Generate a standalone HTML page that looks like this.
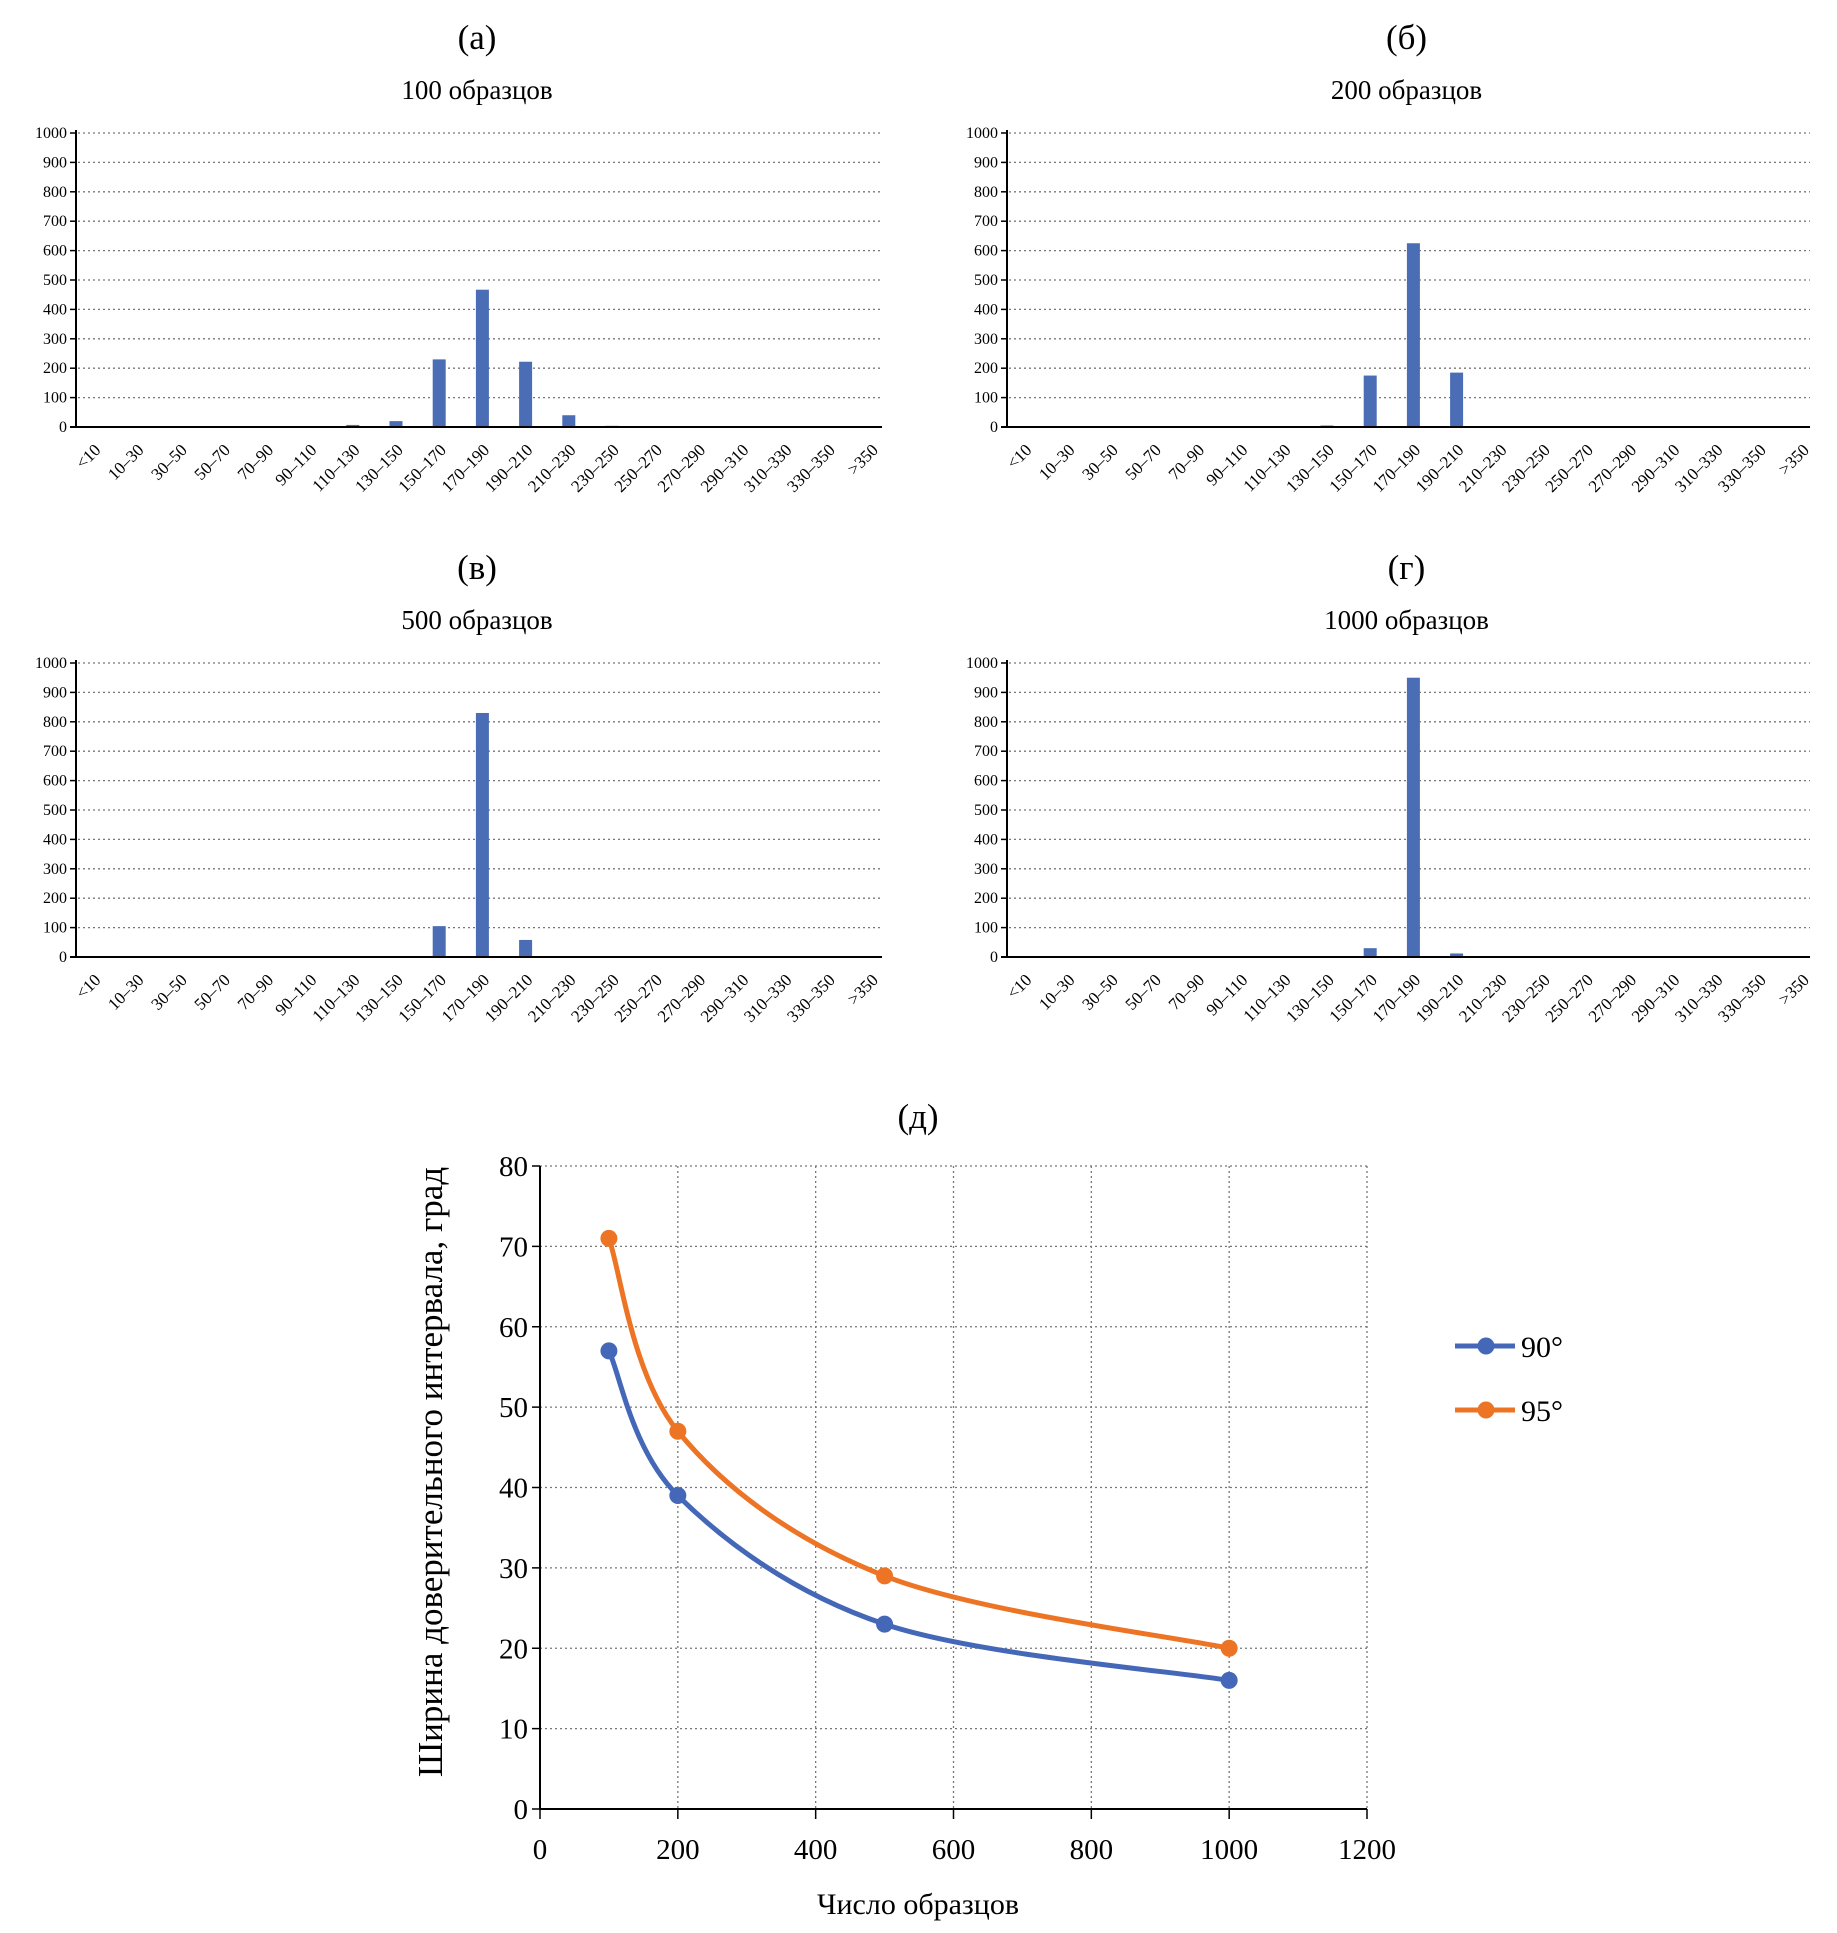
<!DOCTYPE html>
<html><head><meta charset="utf-8">
<style>
body{margin:0;background:#fff;}
svg{display:block;font-family:"Liberation Serif","DejaVu Serif",serif;}
</style></head>
<body>
<svg id="root" width="1837" height="1933" viewBox="0 0 1837 1933"></svg>
<script>
const categories=["<10","10–30","30–50","50–70","70–90","90–110","110–130","130–150","150–170","170–190","190–210","210–230","230–250","250–270","270–290","290–310","310–330","330–350",">350"];
const valuesA=[0,0,0,0,0,3,7,20,230,467,222,40,4,2,0,0,0,0,0];
const valuesB=[0,0,0,0,0,0,0,5,175,625,185,2,0,0,0,0,0,0,0];
const valuesC=[0,0,0,0,0,0,0,0,105,830,58,0,0,0,0,0,0,0,0];
const valuesD=[0,0,0,0,0,0,0,0,30,950,12,0,0,0,0,0,0,0,0];
const histTicks=[0,100,200,300,400,500,600,700,800,900,1000];
const lineX=[100,200,500,1000];
const series90=[57,39,23,16];
const series95=[71,47,29,20];
const lineXTicks=[0,200,400,600,800,1000,1200];
const lineYTicks=[0,10,20,30,40,50,60,70,80];

const NS="http://www.w3.org/2000/svg";
const root=document.getElementById('root');
function mk(tag,attrs,parent,text){const e=document.createElementNS(NS,tag);for(const k in attrs)e.setAttribute(k,attrs[k]);if(text!==undefined)e.textContent=text;(parent||root).appendChild(e);return e;}

function hist(id,letter,sub,vals,x0,x1,yTop,yBot){
  const g=mk('g',{});
  
  
  const cx=(x0+x1)/2+(-2);
  const t1=mk('text',{x:cx,y:yTop-84,'text-anchor':'middle','font-size':35},g,letter);
  
  
  const t2=mk('text',{x:cx,y:yTop-34,'text-anchor':'middle','font-size':27},g,sub);
  
  
  const ys=v=>yBot-(v/1000)*(yBot-yTop);
  histTicks.forEach(t=>{
    const y=ys(t);
    if(t>0){const gl=mk('line',{x1:x0+2,x2:x1,y1:y,y2:y,stroke:'#777','stroke-width':1.3,'stroke-dasharray':'2,3'},g);
      
      }
    mk('line',{x1:x0-6,x2:x0,y1:y,y2:y,stroke:'#000','stroke-width':1.5},g);
    const tl=mk('text',{x:x0-9,y:y+5,'text-anchor':'end','font-size':16},g,String(t));
    
    
  });
  const band=43.2;
  vals.forEach((v,i)=>{
    const c=x0+band*(i+0.5)-4;
    if(v>0){const b=mk('rect',{x:c-6.5,y:ys(v),width:13,height:yBot-ys(v),fill:'#4a6db5'},g);
      
      }
    const lt=mk('text',{x:c+8,y:yBot+24,'text-anchor':'end','font-size':17,transform:`rotate(-45 ${c+8} ${yBot+24})`},g,categories[i]);
    
    
  });
  const ax=mk('line',{x1:x0,x2:x0,y1:yTop-3,y2:yBot,stroke:'#000','stroke-width':2},g);
  
  
  const bx=mk('line',{x1:x0-6,x2:x1,y1:yBot,y2:yBot,stroke:'#000','stroke-width':2},g);
  
  
}
hist('a','(а)','100 образцов',valuesA,76,882,133,427);
hist('b','(б)','200 образцов',valuesB,1007,1810,133,427);
hist('c','(в)','500 образцов',valuesC,76,882,663,957);
hist('d','(г)','1000 образцов',valuesD,1007,1810,663,957);

// line chart
const L={x0:540,x1:1367,yT:1166,yB:1809};
const lx=v=>L.x0+v/1200*(L.x1-L.x0);
const ly=v=>L.yB-v/80*(L.yB-L.yT);
const lg=mk('g',{});


const tt=mk('text',{x:918,y:1128,'text-anchor':'middle','font-size':35},lg,'(д)');


lineYTicks.forEach(t=>{const y=ly(t);
  if(t>0){const gl=mk('line',{x1:L.x0,x2:L.x1,y1:y,y2:y,stroke:'#777','stroke-width':1.3,'stroke-dasharray':'2,3'},lg);
   
   }
  mk('line',{x1:L.x0-8,x2:L.x0,y1:y,y2:y,stroke:'#000','stroke-width':1.5},lg);
  const tl=mk('text',{x:L.x0-12,y:y+10,'text-anchor':'end','font-size':29},lg,String(t));
  
  
});
lineXTicks.forEach(t=>{const x=lx(t);
  if(t>0){const gl=mk('line',{x1:x,x2:x,y1:L.yT,y2:L.yB,stroke:'#777','stroke-width':1.3,'stroke-dasharray':'2,3'},lg);
   
   }
  mk('line',{x1:x,x2:x,y1:L.yB,y2:L.yB+10,stroke:'#000','stroke-width':1.5},lg);
  const tl=mk('text',{x:x,y:L.yB+50,'text-anchor':'middle','font-size':29},lg,String(t));
  
  
});
mk('line',{x1:L.x0,x2:L.x0,y1:L.yT,y2:L.yB,stroke:'#000','stroke-width':2},lg);
mk('line',{x1:L.x0,x2:L.x1,y1:L.yB,y2:L.yB,stroke:'#000','stroke-width':2},lg);
const xt=mk('text',{x:918,y:1914,'text-anchor':'middle','font-size':30},lg,'Число образцов');


const yt=mk('text',{x:0,y:0,'text-anchor':'middle','font-size':35,transform:'translate(442 1472) rotate(-90)'},lg,'Ширина доверительного интервала, град');



function smooth(xs,ys){
  const p=xs.map((x,i)=>[lx(x),ly(ys[i])]);
  let d=`M${p[0][0]},${p[0][1]}`;
  for(let i=0;i<p.length-1;i++){
    const p0=p[i-1]||p[i],p1=p[i],p2=p[i+1],p3=p[i+2]||p2;
    const c1=[p1[0]+(p2[0]-p0[0])/6,p1[1]+(p2[1]-p0[1])/6];
    const c2=[p2[0]-(p3[0]-p1[0])/6,p2[1]-(p3[1]-p1[1])/6];
    d+=` C${c1[0]},${c1[1]} ${c2[0]},${c2[1]} ${p2[0]},${p2[1]}`;
  }
  return d;
}
function drawSeries(name,vals,color){
  const path=mk('path',{d:smooth(lineX,vals),fill:'none',stroke:color,'stroke-width':5},lg);
  
  
  vals.forEach((v,i)=>{
    const c=mk('circle',{cx:lx(lineX[i]),cy:ly(v),r:8.5,fill:color},lg);
    
    
  });
}
drawSeries('90',series90,'#4467b8');
drawSeries('95',series95,'#ec7424');
[['90°','#4467b8',1346],['95°','#ec7424',1410]].forEach(([lab,col,y])=>{
  const g=mk('g',{},lg);
  
  
  mk('line',{x1:1455,x2:1515,y1:y,y2:y,stroke:col,'stroke-width':5},g);
  mk('circle',{cx:1486,cy:y,r:8.5,fill:col},g);
  mk('text',{x:1521,y:y+11,'font-size':30},g,lab);
});
</script>
</body></html>
